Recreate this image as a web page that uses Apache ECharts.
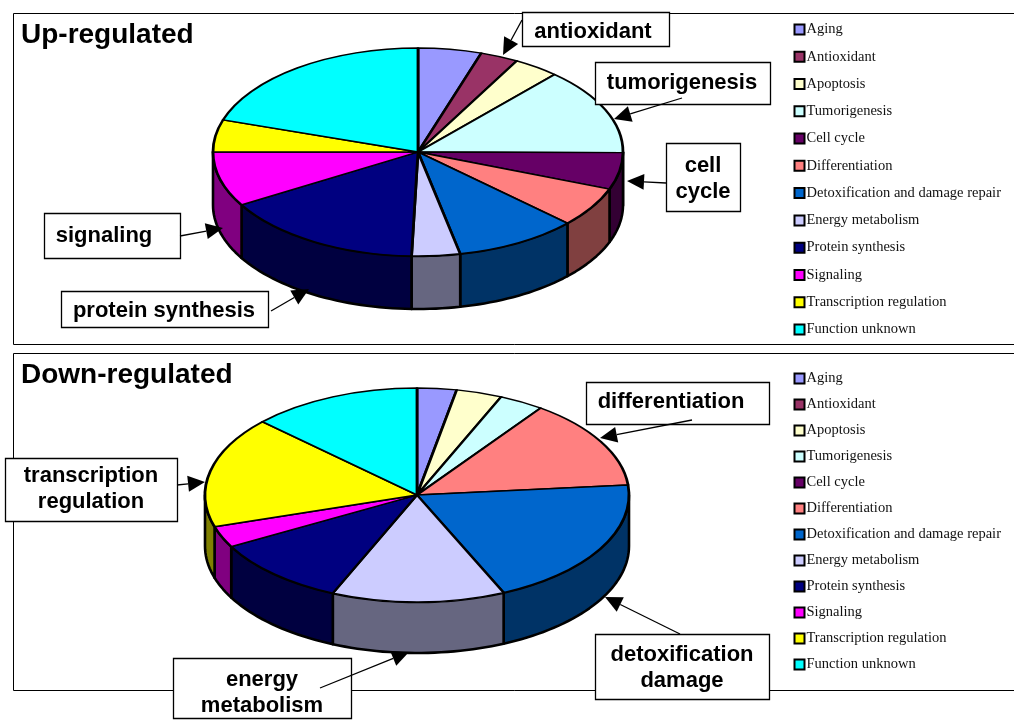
<!DOCTYPE html>
<html>
<head>
<meta charset="utf-8">
<style>html,body{margin:0;padding:0;background:#fff}#c{width:1014px;height:720px}</style>
<script src="https://cdn.jsdelivr.net/npm/echarts@6/dist/echarts.min.js"></script>
</head>
<body>
<div id="c"></div>
<script>
var categories = ['Aging','Antioxidant','Apoptosis','Tumorigenesis','Cell cycle','Differentiation','Detoxification and damage repair','Energy metabolism','Protein synthesis','Signaling','Transcription regulation','Function unknown'];
var upValues = [5,3,3.6,13.5,5.7,6.2,9.7,3.8,16,8.5,5,20];
var downValues = [3,0,3.5,3.4,0,13.6,19.8,13.2,10.5,3.2,16.8,13];
var topColors = ['#9999FF','#993366','#FFFFCC','#CCFFFF','#660066','#FF8080','#0066CC','#CCCCFF','#000080','#FF00FF','#FFFF00','#00FFFF'];
var wallColors = ['#4D4D80','#4D1A33','#808066','#668080','#330033','#804040','#003366','#666680','#000040','#800080','#808000','#008080'];

var upPie = {cx:418, cy:152, rx:205, ry:104, depth:53};
var downPie = {cx:417, cy:495, rx:212, ry:107, depth:51};

function ptAt(p, pct, dy){
  var a = pct / 100 * Math.PI * 2;
  return [p.cx + p.rx * Math.sin(a), p.cy - p.ry * Math.cos(a) + (dy || 0)];
}
function sliceRenderer(p, idx){
  return function(params, api){
    var s = api.value(0), e = api.value(1);
    if (e - s <= 0) return null;
    var children = [];
    var ws = Math.max(s, 25), we = Math.min(e, 75);
    if (we > ws){
      var pts = [], n = Math.max(2, Math.ceil((we - ws) * 2)), i;
      for (i = 0; i <= n; i++) pts.push(ptAt(p, ws + (we - ws) * i / n, 0));
      for (i = n; i >= 0; i--) pts.push(ptAt(p, ws + (we - ws) * i / n, p.depth));
      children.push({type:'polygon', shape:{points:pts},
        style:{fill:wallColors[idx], stroke:'#000', lineWidth:2.6, lineJoin:'round'}});
    }
    var off = -Math.PI / 2;
    children.push({type:'sector', x:p.cx, y:p.cy, scaleY:p.ry / p.rx,
      shape:{cx:0, cy:0, r0:0, r:p.rx, startAngle:off + s / 100 * Math.PI * 2, endAngle:off + e / 100 * Math.PI * 2, clockwise:true},
      style:{fill:topColors[idx], stroke:'#000', lineWidth:2.8, strokeNoScale:true, lineJoin:'round'}});
    return {type:'group', children:children};
  };
}
function pieSeries(values, p, tag){
  var cum = 0;
  return values.map(function(v, i){
    var start = cum; cum += v;
    return {type:'custom', name:categories[i], id:tag + i, coordinateSystem:'none', silent:true,
      itemStyle:{color:topColors[i]}, data:[[start, cum]], renderItem:sliceRenderer(p, i), clip:false, z:2};
  });
}

var boxes = [
  {x:522,y:12,w:147,h:34,tx:593,ty:32,text:'antioxidant'},
  {x:595,y:62,w:175,h:42,tx:682,ty:83,text:'tumorigenesis'},
  {x:666,y:143,w:74,h:68,tx:703,ty:179,text:'cell\ncycle'},
  {x:44,y:213,w:136,h:45,tx:104,ty:235.5,text:'signaling'},
  {x:61,y:291,w:207,h:36,tx:164,ty:311,text:'protein synthesis'},
  {x:586,y:382,w:183,h:42,tx:671,ty:402,text:'differentiation'},
  {x:5,y:458,w:172,h:63,tx:91,ty:489,text:'transcription\nregulation'},
  {x:173,y:658,w:178,h:60,tx:262,ty:692.5,text:'energy\nmetabolism'},
  {x:595,y:634,w:174,h:65,tx:682,ty:668,text:'detoxification\ndamage'}
];
var arrows = [
  [522,20,503,55],[682,98,614,119],[666,183,627,181],[180,236,223,228],[271,311,309,289],
  [692,420,600,438],[177,485,205,482],[320,688,409,652],[680,634,605,597]
];
var graphics = [
  {type:'rect', z:1, shape:{x:13.5,y:13.5,width:1010,height:331}, style:{fill:'none',stroke:'#000',lineWidth:1}},
  {type:'rect', z:1, shape:{x:13.5,y:353.5,width:1010,height:337}, style:{fill:'none',stroke:'#000',lineWidth:1}},
  {type:'text', z:5, x:21, y:35.5, style:{text:'Up-regulated', font:'bold 28px "Liberation Sans"', fill:'#000', align:'left', verticalAlign:'middle'}},
  {type:'text', z:5, x:21, y:375.5, style:{text:'Down-regulated', font:'bold 28px "Liberation Sans"', fill:'#000', align:'left', verticalAlign:'middle'}}
];
boxes.forEach(function(b){
  graphics.push({type:'rect', z:10, shape:{x:b.x+0.5,y:b.y+0.5,width:b.w,height:b.h}, style:{fill:'#fff',stroke:'#000',lineWidth:1.3}});
  graphics.push({type:'text', z:12, x:b.tx, y:b.ty, style:{text:b.text, font:'bold 22px "Liberation Sans"', lineHeight:26, fill:'#000', align:'center', verticalAlign:'middle'}});
});
arrows.forEach(function(a){
  var dx=a[2]-a[0], dy=a[3]-a[1], L=Math.sqrt(dx*dx+dy*dy), ux=dx/L, uy=dy/L, hl=17, hw=8;
  var bx=a[2]-ux*hl, by=a[3]-uy*hl;
  graphics.push({type:'line', z:11, shape:{x1:a[0],y1:a[1],x2:bx,y2:by}, style:{stroke:'#000',lineWidth:1.3}});
  graphics.push({type:'polygon', z:11, shape:{points:[[a[2],a[3]],[bx-uy*hw,by+ux*hw],[bx+uy*hw,by-ux*hw]]}, style:{fill:'#000'}});
});
function legendOf(top, gap){
  return {orient:'vertical', left:793.5, top:top, padding:0, itemWidth:10, itemHeight:10, itemGap:gap, selectedMode:false,
    icon:'rect', data:categories.slice(),
    itemStyle:{borderColor:'#000', borderWidth:2},
    textStyle:{fontFamily:'"Liberation Serif"', fontSize:14.5, color:'#111', lineHeight:14, padding:[0,0,0,-3]}};
}
var chart = echarts.init(document.getElementById('c'), null, {renderer:'canvas'});
chart.setOption({
  animation:false,
  backgroundColor:'#fff',
  legend:[legendOf(22, 12.27), legendOf(371, 11)],
  series: pieSeries(upValues, upPie, 'up').concat(pieSeries(downValues, downPie, 'down')),
  graphic:{elements:graphics}
});
</script>
</body>
</html>
